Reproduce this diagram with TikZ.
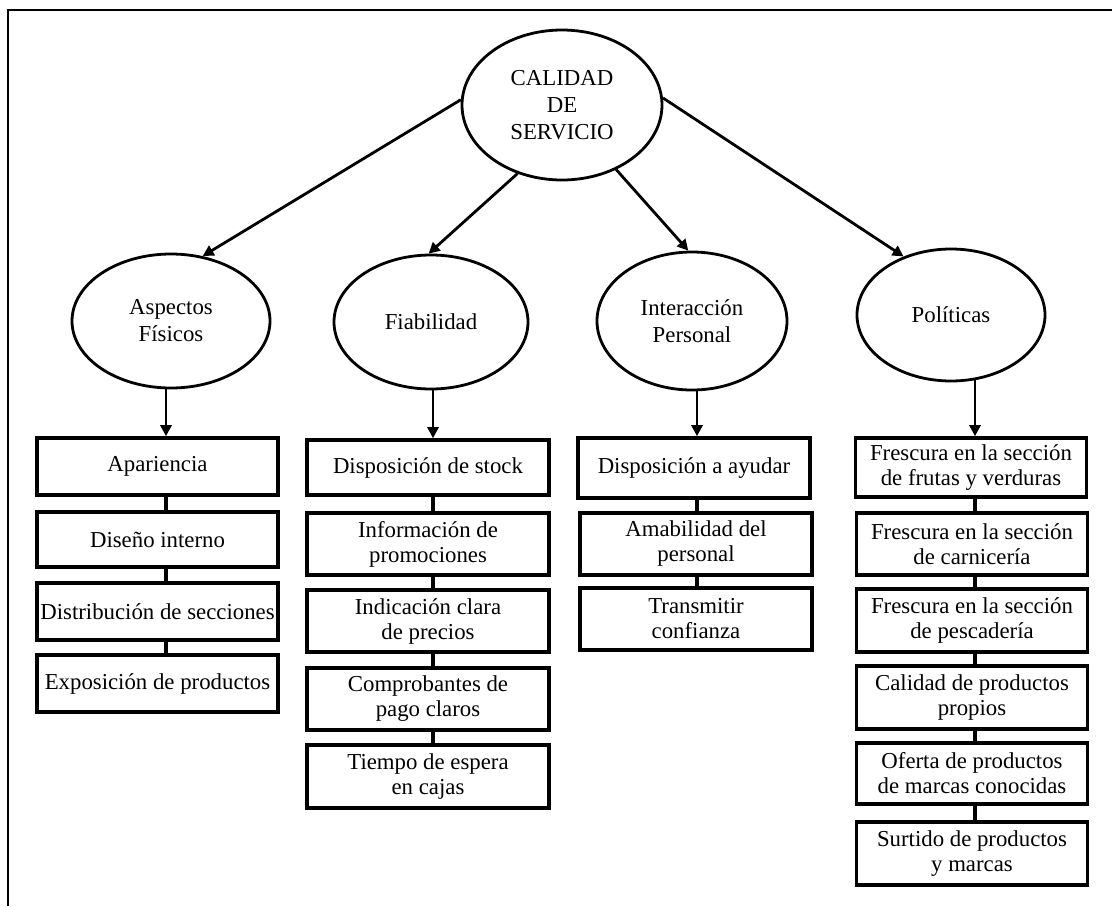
\documentclass[tikz,border=0pt]{standalone}
\usepackage{fontspec}
\setmainfont{Liberation Serif}
\usetikzlibrary{shapes.geometric,arrows.meta}
\begin{document}
\begin{tikzpicture}[x=1pt,y=-1pt,
  every node/.style={font=\fontsize{22.8}{25}\selectfont, align=center, inner sep=0pt},
  oval/.style={draw, ellipse, line width=2.8pt, font=\fontsize{22.8}{27}\selectfont},
  box/.style={draw, rectangle, line width=3.6pt},
  arr/.style={line width=2.8pt, -{Triangle[length=11pt,width=11pt]}},
  link/.style={line width=3.4pt},
]
\useasboundingbox (0,0) rectangle (1112,906);
% frame
\draw[line width=2pt] (8,906) -- (8,10) -- (1112,10);

% ellipses
\node[oval, minimum width=200pt, minimum height=150pt] (top) at (562,105) {CALIDAD\\DE\\SERVICIO};
\node[oval, minimum width=198pt, minimum height=134pt] (asp) at (171,321) {Aspectos\\Físicos};
\node[oval, minimum width=194pt, minimum height=134pt] (fia) at (431,322) {Fiabilidad};
\node[oval, minimum width=190pt, minimum height=138pt] (int) at (692,321) {Interacción\\Personal};
\node[oval, minimum width=188pt, minimum height=132pt] (pol) at (951,315) {Políticas};

\draw[arr] (top.177) -- (asp.64);
\draw[arr] (top.237) -- (fia.92);
\draw[arr] (top.310) -- (int.93);
\draw[arr] (top.4) -- (pol.129);

% column lines
\coordinate (ca) at (166,0);
\coordinate (cf) at (433,0);
\coordinate (ci) at (697,0);
\coordinate (cp) at (975,0);

% Aspectos
\node[box, minimum width=241pt, minimum height=57pt] (a1) at (157.5,466.5) {Apariencia};
\node[box, minimum width=241pt, minimum height=55pt] (a2) at (157.5,539.5) {Diseño interno};
\node[box, minimum width=241pt, minimum height=57pt] (a3) at (157.5,611.5) {Distribución de secciones};
\node[box, minimum width=241pt, minimum height=57pt] (a4) at (157.5,683.5) {Exposición de productos};

% Fiabilidad
\node[box, minimum width=242pt, minimum height=55pt] (f1) at (428,467.5) {Disposición de stock};
\node[box, minimum width=242pt, minimum height=62pt] (f2) at (428,544) {Información de\\promociones};
\node[box, minimum width=242pt, minimum height=62pt] (f3) at (428,621) {Indicación clara\\de precios};
\node[box, minimum width=242pt, minimum height=62pt] (f4) at (428,699) {Comprobantes de\\pago claros};
\node[box, minimum width=242pt, minimum height=63pt] (f5) at (428,776.5) {Tiempo de espera\\en cajas};

% Interaccion
\node[box, minimum width=232pt, minimum height=60pt] (i1) at (694,468) {Disposición a ayudar};
\node[box, minimum width=232pt, minimum height=62pt] (i2) at (696,544) {Amabilidad del\\personal};
\node[box, minimum width=232pt, minimum height=62pt] (i3) at (696,619) {Transmitir\\confianza};

% Politicas
\node[box, minimum width=231pt, minimum height=59pt] (p1) at (971,467.5) {Frescura en la sección\\de frutas y verduras};
\node[box, minimum width=231pt, minimum height=62pt] (p2) at (972,544) {Frescura en la sección\\de carnicería};
\node[box, minimum width=231pt, minimum height=63pt] (p3) at (972,620.5) {Frescura en la sección\\de pescadería};
\node[box, minimum width=231pt, minimum height=63pt] (p4) at (972,697.5) {Calidad de productos\\propios};
\node[box, minimum width=231pt, minimum height=61pt] (p5) at (972,773.5) {Oferta de productos\\de marcas conocidas};
\node[box, minimum width=231pt, minimum height=63pt] (p6) at (972,853.5) {Surtido de productos\\y marcas};

% arrows from ellipses to first boxes
\draw[arr] (asp.south -| ca) -- (a1.north -| ca);
\draw[arr] (fia.south -| cf) -- (f1.north -| cf);
\draw[arr] (int.south -| ci) -- (i1.north -| ci);
\draw[arr] ([yshift=2pt]pol.south -| cp) -- (p1.north -| cp);

% links
\draw[link] (a1.south -| ca) -- (a2.north -| ca);
\draw[link] (a2.south -| ca) -- (a3.north -| ca);
\draw[link] (a3.south -| ca) -- (a4.north -| ca);
\draw[link] (f1.south -| cf) -- (f2.north -| cf);
\draw[link] (f2.south -| cf) -- (f3.north -| cf);
\draw[link] (f3.south -| cf) -- (f4.north -| cf);
\draw[link] (f4.south -| cf) -- (f5.north -| cf);
\draw[link] (i1.south -| ci) -- (i2.north -| ci);
\draw[link] (i2.south -| ci) -- (i3.north -| ci);
\draw[link] (p1.south -| cp) -- (p2.north -| cp);
\draw[link] (p2.south -| cp) -- (p3.north -| cp);
\draw[link] (p3.south -| cp) -- (p4.north -| cp);
\draw[link] (p4.south -| cp) -- (p5.north -| cp);
\draw[link] (p5.south -| cp) -- (p6.north -| cp);
\end{tikzpicture}
\end{document}
